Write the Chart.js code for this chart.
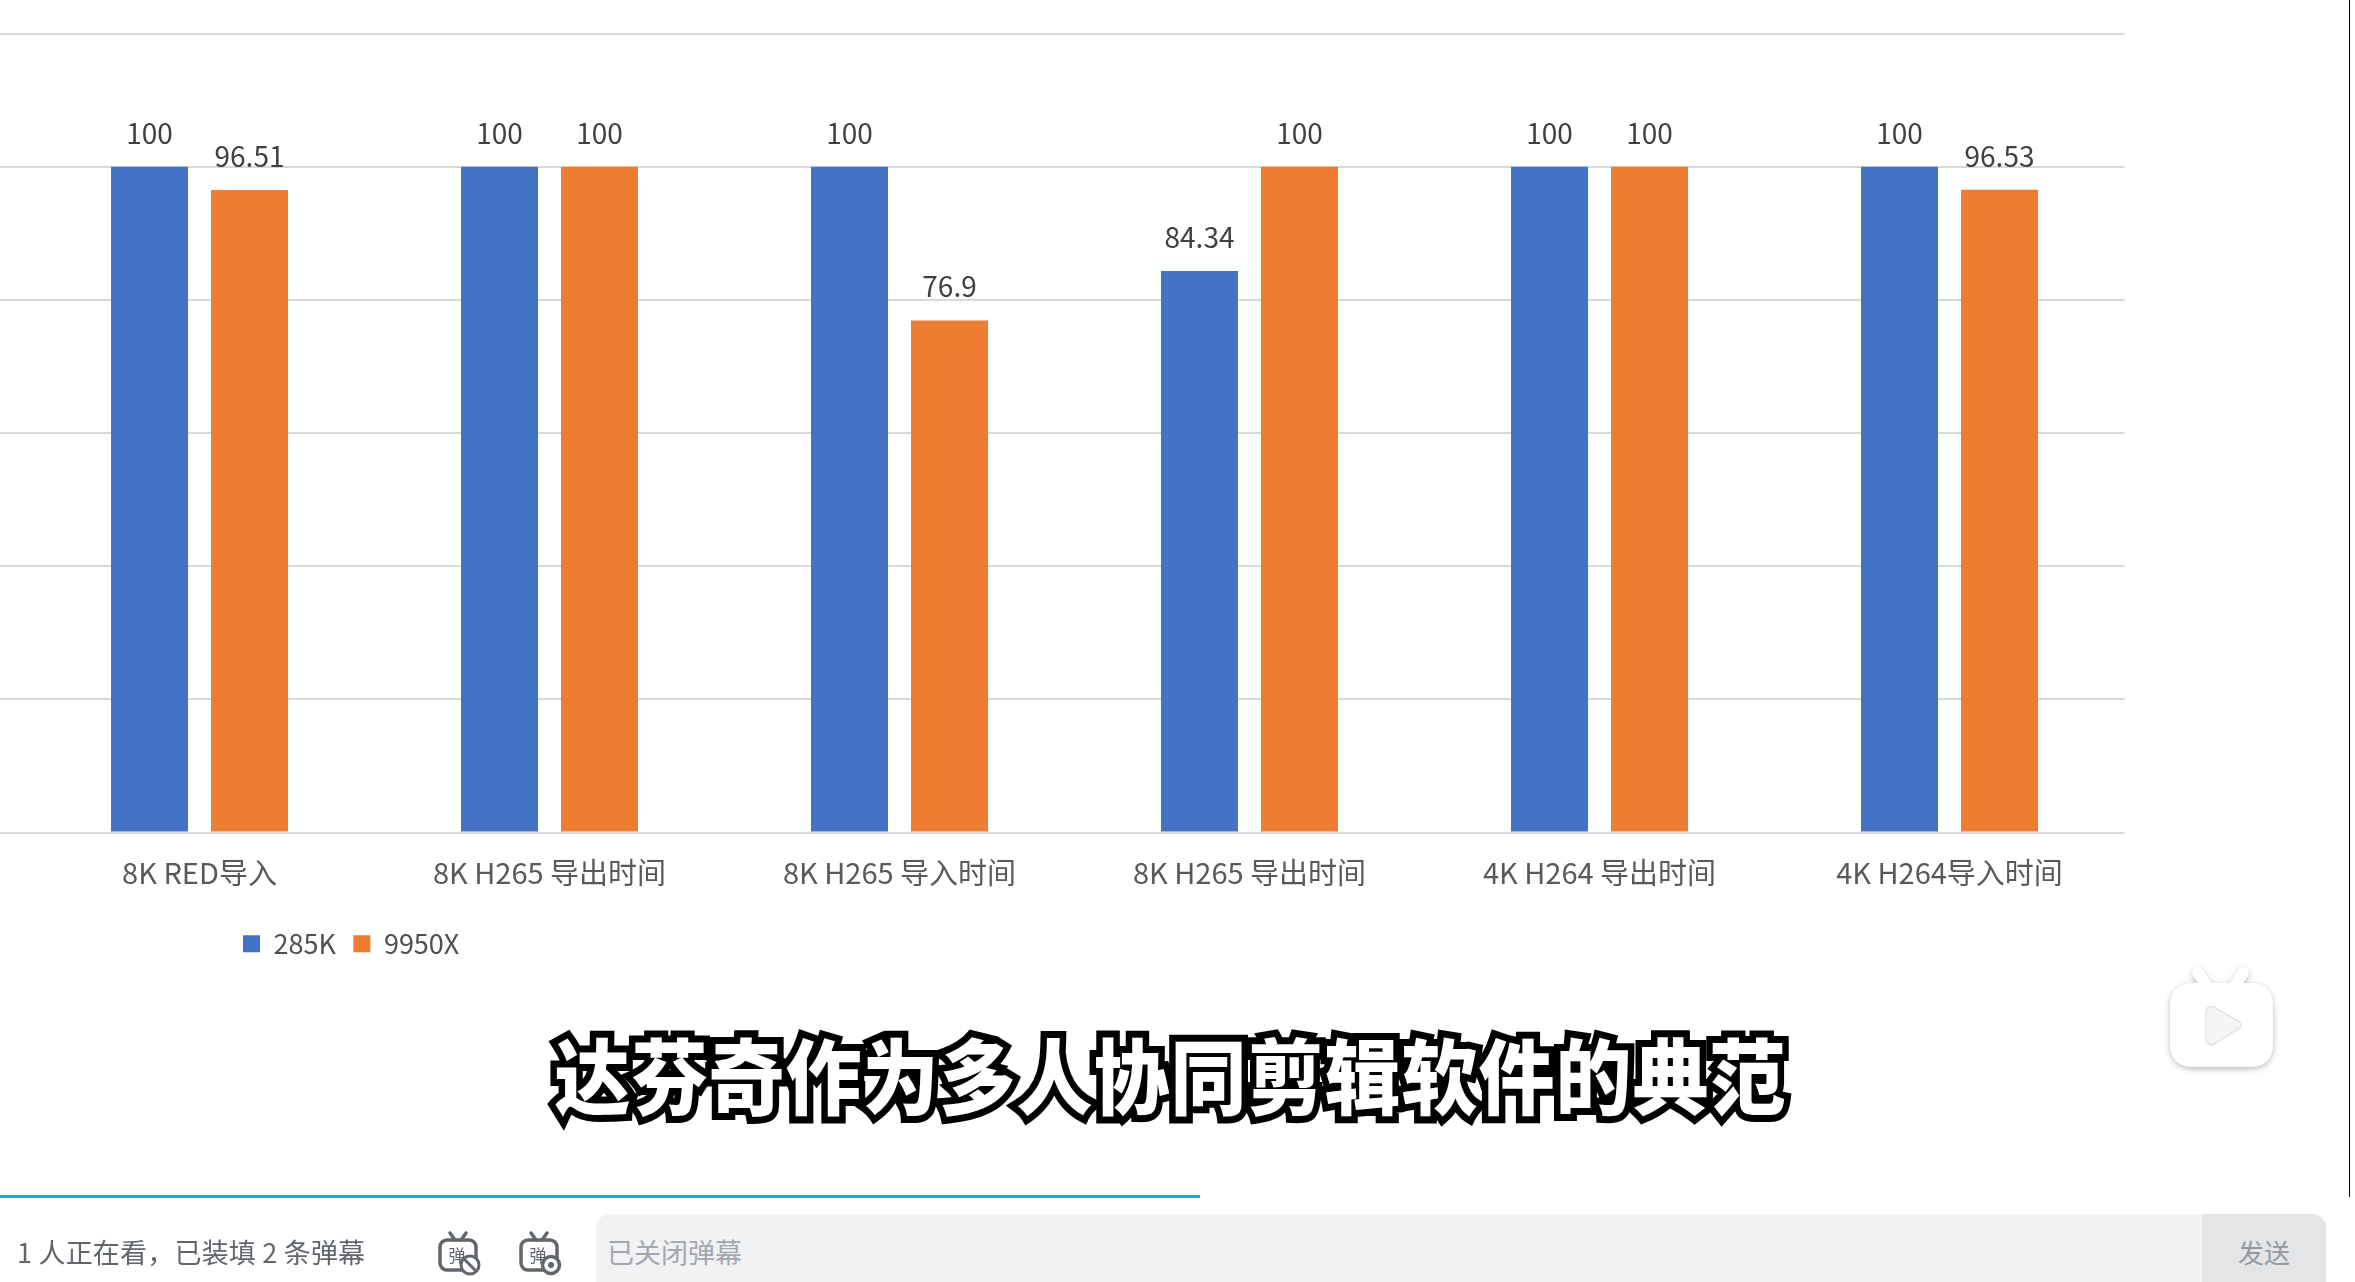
<!DOCTYPE html>
<html lang="zh">
<head>
<meta charset="utf-8">
<title>285K vs 9950X</title>
<script src="https://cdn.jsdelivr.net/npm/chart.js@4"></script>
<style>
html,body{margin:0;padding:0;background:#fff;width:2355px;height:1282px;overflow:hidden}
body{position:relative;font-family:"Noto Sans CJK SC","Noto Sans",sans-serif}
#c{position:absolute;left:0;top:0}
.abs{position:absolute;white-space:pre}
#sub{left:0;width:2341px;top:1017px;text-align:center;font-size:76px;line-height:110px;font-weight:900;color:#fff;letter-spacing:1px;
-webkit-text-stroke:13px #000;paint-order:stroke fill;text-shadow:3px 4px 0 #000;transform:scaleY(1.08)}
#prog{left:0;top:1195px;width:1200px;height:3px;background:#00aeec}
#vline{left:2349px;top:0;width:1px;height:1197px;background:#000}
#status{left:17px;top:1232px;font-size:27px;letter-spacing:.2px;line-height:40px;color:#61666d}
#input{left:596px;top:1214px;width:1606px;height:68px;background:#f1f2f3;border-top-left-radius:14px}
#ph{left:607px;top:1232px;font-size:27px;line-height:40px;color:#a2a7ae}
#send{left:2202px;top:1214px;width:124px;height:68px;background:#e3e5e7;border-top-right-radius:14px;text-align:center;line-height:76px;font-size:26px;color:#9499a0}
svg{position:absolute;overflow:visible}
</style>
</head>
<body>
<canvas id="c" width="2355" height="1282"></canvas>
<div class="abs" id="sub">达芬奇作为多人协同剪辑软件的典范</div>
<div class="abs" id="prog"></div>
<div class="abs" id="vline"></div>
<div class="abs" id="status">1 人正在看，已装填 2 条弹幕</div>
<svg style="left:438px;top:1232px" width="40" height="42" viewBox="0 0 40 42">
  <path d="M12 1l5 7M28 1l-5 7" stroke="#61666d" stroke-width="3.5" stroke-linecap="round"/>
  <rect x="2" y="8" width="36" height="30" rx="7" fill="none" stroke="#61666d" stroke-width="3.5"/>
  <text x="19" y="30" text-anchor="middle" font-size="17" fill="#61666d" font-family="Noto Sans CJK SC">弹</text>
  <circle cx="32" cy="33" r="9" fill="#fff" stroke="#61666d" stroke-width="3"/>
  <path d="M26 27l12 12" stroke="#61666d" stroke-width="3"/>
</svg>
<svg style="left:519px;top:1232px" width="40" height="42" viewBox="0 0 40 42">
  <path d="M12 1l5 7M28 1l-5 7" stroke="#61666d" stroke-width="3.5" stroke-linecap="round"/>
  <rect x="2" y="8" width="36" height="30" rx="7" fill="none" stroke="#61666d" stroke-width="3.5"/>
  <text x="19" y="30" text-anchor="middle" font-size="17" fill="#61666d" font-family="Noto Sans CJK SC">弹</text>
  <circle cx="32" cy="33" r="8.5" fill="#fff" stroke="#61666d" stroke-width="3.5"/>
  <circle cx="32" cy="33" r="3" fill="#61666d"/>
</svg>
<div class="abs" id="input"></div>
<div class="abs" id="ph">已关闭弹幕</div>
<div class="abs" id="send">发送</div>
<svg style="left:2160px;top:960px" width="125" height="120" viewBox="2160 960 125 120">
  <defs><filter id="sh" x="-20%" y="-20%" width="140%" height="140%"><feDropShadow dx="0" dy="2" stdDeviation="3" flood-color="#000" flood-opacity=".28"/></filter></defs>
  <g filter="url(#sh)" fill="#fff">
    <path d="M2198 973l12 18M2243 973l-12 18" stroke="#fff" stroke-width="11" stroke-linecap="round"/>
    <path d="M2195 983h53c17 0 25 8 25 25v34c0 17-8 25-25 25h-53c-17 0-25-8-25-25v-34c0-17 8-25 25-25z"/>
  </g>
  <path d="M2206 1012c0-5 4-7 8-5l24 14c4 2 4 6 0 8l-24 15c-4 2-8 0-8-5z" fill="#f5f5f5" stroke="#e4e4e4" stroke-width="1.5"/>
</svg>
<script>
const categories = ["8K RED导入", "8K H265 导出时间", "8K H265 导入时间", "8K H265 导出时间", "4K H264 导出时间", "4K H264导入时间"];
const series285K = [100, 100, 100, 84.34, 100, 100];
const series9950X = [96.51, 100, 76.9, 100, 100, 96.53];
const seriesNames = ["285K", "9950X"];
const seriesColors = ["#4472c4", "#ed7d31"];

const fontFamily = '"Noto Sans CJK SC","Noto Sans",sans-serif';

const valueLabels = {
  id: 'valueLabels',
  afterDatasetsDraw(chart) {
    const ctx = chart.ctx;
    ctx.save();
    ctx.font = '28px ' + fontFamily;
    ctx.fillStyle = '#404040';
    ctx.textAlign = 'center';
    ctx.textBaseline = 'alphabetic';
    chart.data.datasets.forEach((ds, i) => {
      chart.getDatasetMeta(i).data.forEach((bar, j) => {
        ctx.fillText(String(ds.data[j]), bar.x, bar.y - 23);
      });
    });
    ctx.restore();
  }
};

const placeLegend = {
  id: 'placeLegend',
  afterLayout(chart) {
    const l = chart.legend, w = l.width, h = l.height;
    l.left = 243 - 17.5; l.right = l.left + w;
    l.top = 940 - h / 2; l.bottom = l.top + h;
  }
};

new Chart(document.getElementById('c'), {
  type: 'bar',
  data: {
    labels: categories,
    datasets: [
      { label: seriesNames[0], data: series285K, backgroundColor: seriesColors[0], categoryPercentage: 0.5714, barPercentage: 0.77 },
      { label: seriesNames[1], data: series9950X, backgroundColor: seriesColors[1], categoryPercentage: 0.5714, barPercentage: 0.77 }
    ]
  },
  options: {
    responsive: false,
    animation: false,
    layout: { padding: { left: 0, right: 230.5, top: 33.5, bottom: 335 } },
    plugins: {
      tooltip: { enabled: false },
      title: { display: false },
      legend: {
        display: true,
        position: 'bottom',
        align: 'start',
        labels: { boxWidth: 17, boxHeight: 17, padding: 17.5, color: '#505050', font: { family: fontFamily, size: 27 } }
      }
    },
    scales: {
      x: {
        grid: { display: false },
        border: { display: false },
        ticks: { color: '#595959', padding: 15, font: { family: fontFamily, size: 29 }, maxRotation: 0, autoSkip: false },
        afterFit(s) { s.height = 60; }
      },
      y: {
        min: 0, max: 120,
        grid: { color: '#d9d9d9', lineWidth: 2, tickColor: '#d9d9d9', drawTicks: true, tickLength: 24.5 },
        border: { display: false },
        ticks: { display: false, stepSize: 20 },
        afterFit(s) { s.width = 24.5; }
      }
    }
  },
  plugins: [valueLabels, placeLegend]
});
</script>
</body>
</html>
